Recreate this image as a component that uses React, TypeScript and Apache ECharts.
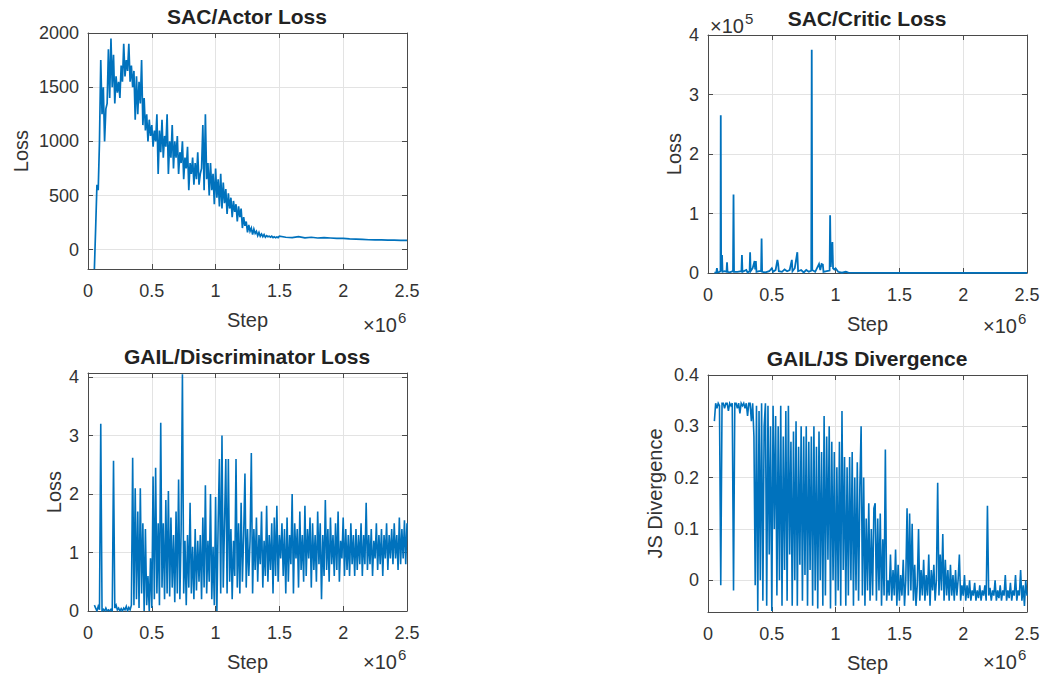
import React, { useEffect, useRef } from "react";
import * as echarts from "echarts";

// ---------- data ----------
// Steps are in units of 1e6 (axis shows "x10^6").
const GRID_STEP = 0.01; // sampling interval of the dense logs (x1e6 steps)

// SAC/Actor Loss, dense part starting at step 0.05e6
const ACTOR_START = 0.05;
const actorLoss = [
  -180, 200, 600, 550, 1000, 1750, 1250, 1500, 1000, 1300,
  1350, 1850, 1400, 1950, 1500, 1800, 1350, 1600, 1450, 1550,
  1400, 1700, 1550, 1900, 1600, 1750, 1650, 1900, 1550, 1700,
  1500, 1650, 1200, 1600, 1250, 1550, 1350, 1750, 1150, 1400,
  1100, 1250, 1000, 1200, 1050, 1150, 950, 1100, 1000, 1250,
  700, 1100, 900, 1200, 850, 1050, 950, 1250, 700, 1000,
  850, 1150, 750, 1000, 850, 1050, 700, 900, 800, 1000,
  650, 850, 750, 950, 550, 800, 700, 850, 600, 800,
  650, 900, 600, 700, 750, 1150, 550, 1250, 650, 800,
  500, 800, 550, 700, 420, 750, 480, 650, 400, 700,
  380, 620, 430, 560, 330, 520, 380, 480, 300, 450,
  350, 420, 260, 400, 300, 380, 200, 300, 220, 260,
  160, 230, 170, 200, 140, 190, 150, 170, 130, 160,
  125, 145, 120, 140, 115, 130, 120, 125, 115, 125,
  112, 120, 110, 118, 112, 125,
];
// smooth tail from 1.55e6 to 2.5e6 every 0.05e6
const ACTOR_TAIL_START = 1.55;
const ACTOR_TAIL_STEP = 0.05;
const actorTailLoss = [
  115, 112, 120, 110, 115, 108, 112, 108, 105, 105,
  100, 98, 95, 92, 90, 90, 88, 88, 87, 86,
];

// SAC/Critic Loss (x1e5): [step x1e6, loss x1e5]
const criticPoints: [number, number][] = [
  [0.05, 0.005], [0.065, 0.01], [0.07, 0.08], [0.075, 0.01], [0.09, 0.02], [0.098, 0.03],
  [0.1, 2.65], [0.103, 0.03], [0.11, 0.3], [0.114, 0.02], [0.13, 0.03], [0.145, 0.02],
  [0.149, 0.18], [0.153, 0.02], [0.17, 0.01], [0.196, 0.03], [0.2, 1.32], [0.204, 0.02],
  [0.23, 0.02], [0.262, 0.03], [0.266, 0.3], [0.27, 0.02], [0.3, 0.05], [0.31, 0.01],
  [0.326, 0.03], [0.33, 0.35], [0.334, 0.03], [0.35, 0.08], [0.365, 0.2], [0.37, 0.06],
  [0.375, 0.2], [0.38, 0.02], [0.4, 0.03], [0.416, 0.03], [0.42, 0.58], [0.424, 0.02],
  [0.45, 0.01], [0.48, 0.03], [0.5, 0.08], [0.51, 0.02], [0.53, 0.05], [0.544, 0.22],
  [0.55, 0.15], [0.555, 0.03], [0.58, 0.02], [0.6, 0.06], [0.62, 0.03], [0.64, 0.05],
  [0.657, 0.22], [0.662, 0.03], [0.68, 0.08], [0.7, 0.35], [0.706, 0.03], [0.73, 0.05],
  [0.75, 0.01], [0.77, 0.05], [0.79, 0.02], [0.809, 0.04], [0.813, 3.75], [0.817, 0.05],
  [0.84, 0.02], [0.87, 0.15], [0.88, 0.05], [0.89, 0.15], [0.9, 0.14], [0.905, 0.02],
  [0.93, 0.03], [0.953, 0.04], [0.957, 0.97], [0.962, 0.1], [0.975, 0.52], [0.98, 0.08],
  [0.99, 0.06], [1.0, 0.08], [1.02, 0.02], [1.05, 0.005], [1.08, 0.02], [1.1, 0.005],
  [1.5, 0.003], [2.0, 0.002], [2.5, 0.002],
];

// GAIL/Discriminator Loss, from step 0.05e6 every 0.01e6
const DISC_START = 0.05;
const discLoss = [
  0.1, 0.05, 0.0, 0.08, 0.02, 3.2, 0.0, 0.03, 0.0, 0.05,
  0.0, 0.02, 0.0, 0.03, 0.0, 2.57, 0.05, 0.1, 0.02, 0.05,
  0.0, 0.04, 0.0, 0.05, 0.02, 0.08, 0.0, 0.06, 0.02, 0.1,
  2.62, 0.1, 2.1, 0.2, 1.7, 0.05, 2.1, 0.3, 1.5, 0.0,
  1.4, 0.1, 0.6, 0.0, 0.9, 0.05, 2.3, 0.2, 2.45, 0.3,
  1.5, 0.1, 3.22, 0.4, 1.5, 0.2, 1.9, 0.3, 2.05, 0.25,
  1.6, 0.4, 1.3, 0.15, 1.7, 0.3, 2.25, 0.2, 1.4, 4.05,
  0.3, 1.2, 0.1, 1.3, 0.4, 1.85, 0.3, 1.1, 0.2, 1.4,
  0.35, 1.2, 0.5, 1.3, 0.2, 1.6, 0.4, 2.15, 0.3, 1.2,
  0.5, 2.0, 0.2, 1.1, 0.1, 1.95, 0.0, 1.5, 2.6, 0.3,
  3.0, 0.4, 1.5, 2.6, 0.3, 2.6, 0.5, 1.4, 0.2, 1.2,
  0.6, 2.6, 0.4, 1.5, 0.3, 1.85, 0.5, 1.3, 2.35, 0.4,
  1.4, 0.6, 1.2, 2.7, 0.3, 1.4, 0.7, 1.6, 0.5, 1.3,
  0.8, 1.7, 0.4, 1.2, 0.6, 1.8, 0.5, 1.3, 0.7, 1.5,
  0.3, 1.6, 0.6, 1.8, 0.5, 1.3, 0.9, 1.5, 0.6, 1.4,
  0.3, 1.6, 0.5, 1.3, 0.8, 2.0, 0.3, 1.5, 0.9, 1.4,
  0.4, 1.7, 0.7, 1.3, 0.5, 1.8, 0.6, 1.4, 0.9, 1.6,
  0.4, 1.5, 0.7, 1.3, 0.5, 1.7, 0.8, 1.5, 0.2, 1.3,
  0.6, 1.9, 0.7, 1.4, 0.5, 1.6, 0.8, 1.3, 0.6, 1.5,
  0.7, 1.7, 0.5, 1.2, 0.9, 1.6, 0.6, 1.4, 0.7, 1.3,
  0.6, 1.5, 0.8, 1.3, 0.6, 1.4, 0.7, 1.3, 0.8, 1.5,
  0.6, 1.3, 0.8, 1.85, 0.7, 1.3, 0.8, 1.4, 0.6, 1.2,
  0.9, 1.5, 0.7, 1.3, 0.8, 1.4, 0.6, 1.3, 0.9, 1.5,
  0.7, 1.3, 0.9, 1.4, 0.8, 1.5, 0.9, 1.3, 0.7, 1.6,
  0.8, 1.4, 0.9, 1.55, 0.8, 1.5,
];

// GAIL/JS Divergence, from step 0.05e6 every 0.01e6
const JS_START = 0.05;
const jsDivergence = [
  0.31, 0.345, 0.335, 0.345, 0.34, -0.01, 0.345, 0.345, 0.335, 0.345,
  0.345, 0.33, 0.345, 0.34, 0.345, -0.02, 0.345, 0.345, 0.335, 0.345,
  0.325, 0.345, 0.34, 0.345, 0.335, 0.345, 0.32, 0.345, 0.345, 0.31,
  0.345, 0.28, -0.01, 0.34, -0.06, 0.33, 0.0, 0.345, -0.04, 0.3,
  0.345, -0.05, 0.34, 0.05, 0.3, -0.06, 0.34, 0.1, 0.32, -0.03,
  0.3, 0.0, 0.34, -0.05, 0.28, 0.02, 0.33, -0.04, 0.34, 0.05,
  0.27, -0.05, 0.29, 0.0, 0.31, -0.05, 0.26, 0.03, 0.3, -0.04,
  0.28, 0.01, 0.3, -0.05, 0.27, 0.02, 0.28, -0.05, 0.3, -0.02,
  0.26, -0.055, 0.29, 0.0, 0.25, -0.05, 0.32, -0.03, 0.28, 0.04,
  0.3, -0.055, 0.27, 0.0, 0.25, -0.05, 0.22, -0.02, 0.27, -0.05,
  0.33, 0.02, 0.24, -0.05, 0.22, -0.03, 0.24, 0.0, 0.25, -0.05,
  0.2, -0.02, 0.23, -0.04, 0.18, 0.3, -0.03, 0.2, -0.05, 0.12,
  -0.02, 0.15, -0.04, 0.1, -0.03, 0.14, 0.15, -0.04, 0.12, -0.02,
  0.13, -0.05, 0.08, -0.03, 0.255, -0.04, 0.0, -0.03, 0.05, -0.04,
  0.02, -0.03, 0.06, -0.05, 0.03, -0.04, 0.01, -0.03, 0.04, -0.05,
  0.0, 0.14, -0.03, 0.13, -0.02, 0.11, -0.04, 0.03, -0.05, -0.01,
  0.1, -0.04, 0.02, -0.03, 0.04, -0.04, 0.01, -0.03, 0.05, -0.05,
  0.02, -0.02, 0.03, -0.04, 0.0, 0.19, -0.03, 0.05, -0.02, 0.09,
  -0.04, 0.04, -0.03, 0.02, -0.04, 0.03, -0.03, 0.01, -0.04, 0.02,
  -0.03, 0.0, 0.05, -0.04, -0.01, -0.03, 0.01, -0.04, -0.01, -0.035,
  0.0, -0.04, -0.02, -0.03, -0.005, -0.04, -0.02, -0.035, -0.01, -0.04,
  -0.02, -0.03, -0.01, -0.04, 0.145, -0.03, -0.015, -0.04, -0.02, -0.03,
  0.0, -0.04, -0.02, -0.035, -0.01, -0.04, -0.02, -0.03, 0.01, -0.04,
  -0.02, -0.035, -0.005, -0.04, -0.02, -0.03, 0.01, -0.04, -0.02, -0.03,
  0.02, -0.04, -0.01, -0.05, 0.0, -0.03,
];

// axes
const stepTicks = [0, 0.5, 1, 1.5, 2, 2.5];
const actorTicks = [0, 500, 1000, 1500, 2000];
const criticTicks = [0, 1, 2, 3, 4];
const discTicks = [0, 1, 2, 3, 4];
const jsTicks = [0, 0.1, 0.2, 0.3, 0.4];

const titles = ["SAC/Actor Loss", "SAC/Critic Loss", "GAIL/Discriminator Loss", "GAIL/JS Divergence"];
const yNames = ["Loss", "Loss", "Loss", "JS Divergence"];

// ---------- styling ----------
const FONT = "'Liberation Sans', Arial, Helvetica, sans-serif";
const LINE = "#0072BD";
const AXC = "#4a4a4a";
const GRIDC = "#e3e3e3";
const TXT = "#333333";

const PANELS = [
  { grid: { left: 88, top: 33, width: 319, height: 236 }, yMin: -178, yMax: 2000, yTicks: actorTicks, nameGap: 57 },
  { grid: { left: 708, top: 35, width: 319, height: 238 }, yMin: 0, yMax: 4, yTicks: criticTicks, nameGap: 24 },
  { grid: { left: 88, top: 373, width: 319, height: 238 }, yMin: 0, yMax: 4.07, yTicks: discTicks, nameGap: 24 },
  { grid: { left: 708, top: 375, width: 319, height: 237 }, yMin: -0.062, yMax: 0.4, yTicks: jsTicks, nameGap: 43 },
];

function seriesFrom(start: number, step: number, vals: number[]) {
  return vals.map((v, k) => [+(start + k * step).toFixed(4), v]);
}

const plain = (v: number) => String(+v.toFixed(6));

export default function App() {
  const ref = useRef<HTMLDivElement>(null);
  useEffect(() => {
    if (!ref.current) return;
    const chart = echarts.init(ref.current, undefined, { renderer: "svg" });

    const xAxes: any[] = [];
    const yAxes: any[] = [];
    PANELS.forEach((p, i) => {
      xAxes.push({
        type: "value", gridIndex: i, min: 0, max: 2.5, position: "bottom",
        axisLine: { show: true, onZero: false, lineStyle: { color: AXC, width: 1 } },
        axisTick: { show: true, inside: true, length: 5, customValues: stepTicks, lineStyle: { color: AXC } },
        axisLabel: { show: true, customValues: stepTicks, formatter: plain, color: TXT, fontSize: 18, fontFamily: FONT, margin: 13 },
        splitLine: { show: true, lineStyle: { color: GRIDC, width: 1 } },
        name: "Step", nameLocation: "middle", nameGap: 41,
        nameTextStyle: { color: TXT, fontSize: 20, fontFamily: FONT },
      });
      xAxes.push({
        type: "value", gridIndex: i, min: 0, max: 2.5, position: "top",
        axisLine: { show: true, onZero: false, lineStyle: { color: AXC, width: 1 } },
        axisTick: { show: true, inside: true, length: 5, customValues: stepTicks, lineStyle: { color: AXC } },
        axisLabel: { show: false },
        splitLine: { show: false },
      });
      yAxes.push({
        type: "value", gridIndex: i, min: p.yMin, max: p.yMax, position: "left",
        axisLine: { show: true, onZero: false, lineStyle: { color: AXC, width: 1 } },
        axisTick: { show: true, inside: true, length: 5, customValues: p.yTicks, lineStyle: { color: AXC } },
        axisLabel: { show: true, customValues: p.yTicks, formatter: plain, color: TXT, fontSize: 18, fontFamily: FONT, margin: 9 },
        splitLine: { show: true, lineStyle: { color: GRIDC, width: 1 } },
        name: yNames[i], nameLocation: "middle", nameGap: p.nameGap, nameRotate: 90,
        nameTextStyle: { color: TXT, fontSize: 20, fontFamily: FONT },
      });
      yAxes.push({
        type: "value", gridIndex: i, min: p.yMin, max: p.yMax, position: "right",
        axisLine: { show: true, onZero: false, lineStyle: { color: AXC, width: 1 } },
        axisTick: { show: true, inside: true, length: 5, customValues: p.yTicks, lineStyle: { color: AXC } },
        axisLabel: { show: false },
        splitLine: { show: false },
      });
    });

    const seriesData = [
      [...seriesFrom(ACTOR_START, GRID_STEP, actorLoss), ...seriesFrom(ACTOR_TAIL_START, ACTOR_TAIL_STEP, actorTailLoss)],
      criticPoints,
      seriesFrom(DISC_START, GRID_STEP, discLoss),
      seriesFrom(JS_START, GRID_STEP, jsDivergence),
    ];
    const widths = [1.7, 1.8, 1.6, 1.6];

    const series = seriesData.map((d, i) => ({
      type: "line", xAxisIndex: 2 * i, yAxisIndex: 2 * i, data: d,
      showSymbol: false, symbol: "none", clip: true, silent: true,
      lineStyle: { color: LINE, width: widths[i], join: "miter" }, itemStyle: { color: LINE },
    }));

    const txt = (text: string, x: number, y: number, size: number, opts: any = {}) => ({
      type: "text", x, y, silent: true,
      style: {
        text, fontSize: size, fontFamily: FONT, fontWeight: opts.bold ? "bold" : "normal",
        fill: opts.color || TXT, lineHeight: opts.lh || size,
        textAlign: opts.align || "center", align: opts.align || "center",
        textVerticalAlign: "middle", verticalAlign: "middle",
      },
    });

    const graphic: any[] = [];
    const titlePos = [[247, 16], [867, 18], [247, 356], [867, 358]];
    titles.forEach((t, i) => graphic.push(txt(t, titlePos[i][0], titlePos[i][1], 21, { bold: true, color: "#222" })));
    // x10^6 exponent labels
    const expPos = [[397, 325, 398, 317], [1017, 326, 1018, 318], [397, 662, 398, 654], [1017, 662, 1018, 654]];
    expPos.forEach((e) => {
      graphic.push(txt("\u00d710", e[0], e[1], 20, { align: "right", lh: 15 }));
      graphic.push(txt("6", e[2], e[3], 15, { align: "left", lh: 12 }));
    });
    // x10^5 for critic loss
    graphic.push(txt("\u00d710", 710, 26, 20, { align: "left", lh: 15 }));
    graphic.push(txt("5", 745, 18, 15, { align: "left", lh: 12 }));

    chart.setOption({
      animation: false,
      backgroundColor: "#ffffff",
      grid: PANELS.map((p) => ({ ...p.grid, containLabel: false })),
      xAxis: xAxes,
      yAxis: yAxes,
      series,
      graphic,
    });
    return () => chart.dispose();
  }, []);

  return (
    <div
      ref={ref}
      style={{ position: "fixed", left: 0, top: 0, width: 1043, height: 675, background: "#fff" }}
    />
  );
}
